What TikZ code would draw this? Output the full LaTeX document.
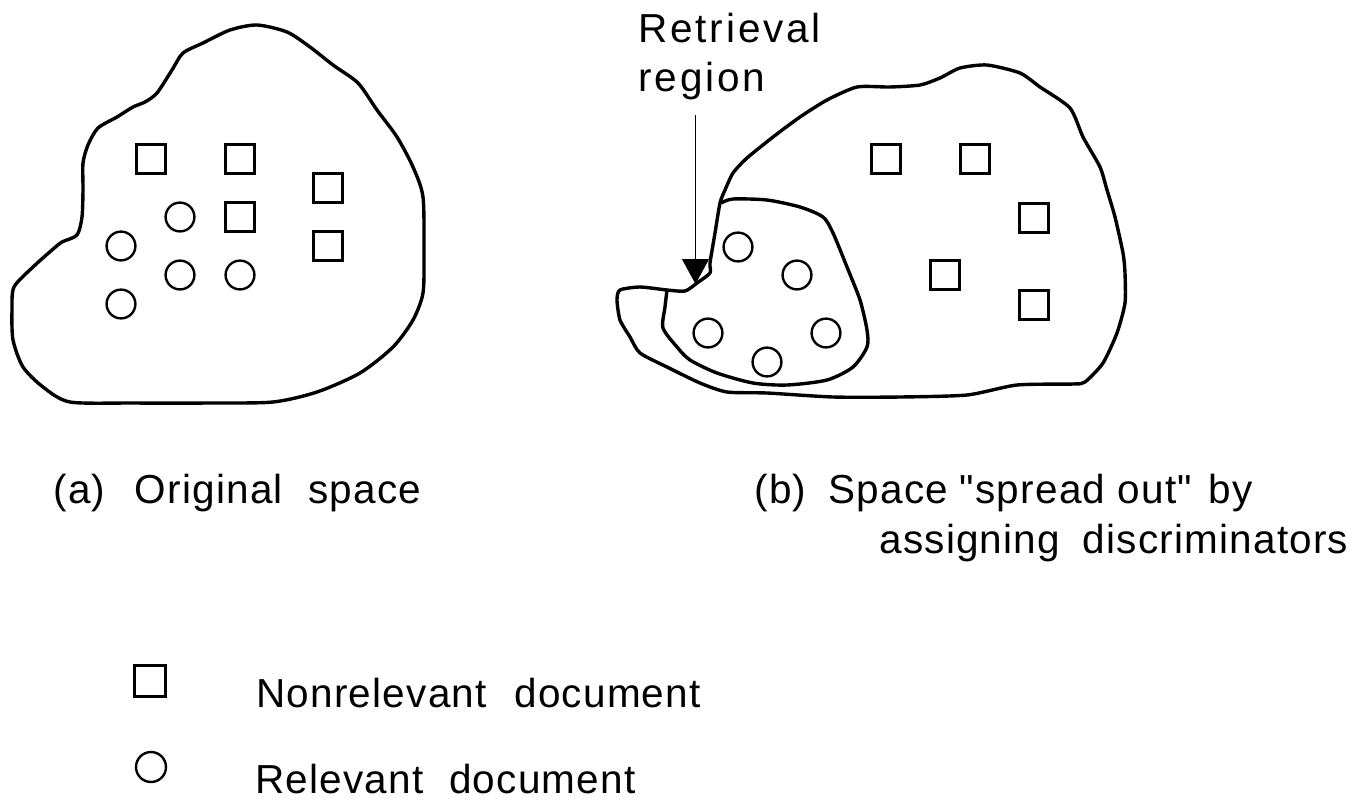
\documentclass[tikz,border=0pt]{standalone}
\usepackage{fontspec}
\setmainfont{Liberation Sans}
\newfontfamily\capfont[LetterSpace=3]{Liberation Sans}
\newfontfamily\retfont[LetterSpace=7]{Liberation Sans}
\usetikzlibrary{arrows.meta}
\newcommand{\wgap}[1]{\hspace{#1pt}}
\tikzset{
  blob/.style={line width=1.7pt, line join=round},
  nonrel/.style={draw, rectangle, line width=1.4pt, minimum size=14.6pt, inner sep=0pt},
  rel/.style={draw, circle, line width=1.2pt, minimum size=14.4pt, inner sep=0pt},
  lbl/.style={anchor=base west, inner sep=0pt, font=\capfont\fontsize{20.25pt}{25pt}\selectfont},
  retlbl/.style={anchor=base west, inner sep=0pt, font=\retfont\fontsize{20.25pt}{25pt}\selectfont},
  pointer/.style={line width=0.65pt, -{Triangle[length=12.5pt,width=13.5pt]}}
}
\begin{document}
\begin{tikzpicture}[x=0.5pt,y=-0.5pt]
\useasboundingbox (0,0) rectangle (1361,799);

% ---- (a) original space ----
\draw[blob] plot[smooth cycle, tension=0.45] coordinates {
 (257,25) (287,32) (310,47) (333,65) (358,83) (377,110) (397,137) (413,167)
 (423,197) (424,253) (423,293) (413,320) (393,347) (360,373) (317,392) (273,402)
 (210,403) (133,403) (70,402) (43,387) (23,367) (13,340) (12,310) (14,287)
 (33,267) (52,250) (62,242) (77,235) (82,217) (83,190) (83,163) (88,145)
 (98,128) (117,117) (133,107) (145,102) (157,93) (172,70) (183,53) (203,43) (230,30)};

\node[nonrel] (a1) at (151,159) {};
\node[nonrel] (a2) at (240,159) {};
\node[nonrel] (a3) at (240,217) {};
\node[nonrel] (a4) at (328,188) {};
\node[nonrel] (a5) at (328,246) {};
\node[rel] (ar1) at (180,217) {};
\node[rel] (ar2) at (121,246) {};
\node[rel] (ar3) at (180,275) {};
\node[rel] (ar4) at (240,275) {};
\node[rel] (ar5) at (121,304) {};

% ---- (b) spread out space ----
\draw[blob] plot[smooth cycle, tension=0.4] coordinates {
 (710,263) (715,233) (720,203) (725,190) (733,173) (747,158) (773,137) (800,117)
 (827,100) (857,87) (890,87) (920,85) (940,78) (960,68) (987,65) (1020,73)
 (1040,87) (1070,108) (1083,137) (1100,167) (1107,190) (1115,217) (1123,253)
 (1125,273) (1125,303) (1117,333) (1103,363) (1085,382) (1073,384) (1017,385)
 (967,395) (900,397) (833,397) (767,393) (727,392) (700,383) (667,367) (640,353)
 (630,337) (620,320) (617,300) (620,290) (640,287) (667,290) (685,291)
 (697,283) (710,273)};

\draw[blob] plot[smooth, tension=0.45] coordinates {
 (667,290) (665,307) (663,328) (677,347) (690,360) (717,373) (753,383) (787,385)
 (827,380) (853,367) (867,347) (867,330) (860,300) (847,267) (833,233) (823,217)
 (800,207) (767,200) (733,199) (721,203)};

\node[rel] (br1) at (738,247) {};
\node[rel] (br2) at (797,275) {};
\node[rel] (br3) at (708,333) {};
\node[rel] (br4) at (767,362) {};
\node[rel] (br5) at (826,333) {};
\node[nonrel] (b1) at (886,159) {};
\node[nonrel] (b2) at (975,159) {};
\node[nonrel] (b3) at (1034,218) {};
\node[nonrel] (b4) at (945,275) {};
\node[nonrel] (b5) at (1034,305) {};

% ---- retrieval region pointer ----
\node[retlbl] (ret1) at (638,42) {Retrieval};
\node[retlbl] (ret2) at (638,91) {region};
\coordinate (arrfrom) at (695.5,115);
\coordinate (arrtip) at (695.5,284);
\draw[pointer] (arrfrom) -- (arrtip);

% ---- captions ----
\node[lbl] (capa) at (53,503) {(a) \wgap{8.5}Original \wgap{6.5}space};
\node[lbl] (capb1) at (754,503) {(b) \wgap{5}Space\wgap{-0.5} "spread out" \wgap{2}by};
\node[lbl] (capb2) at (879,553) {assigning \wgap{5}discriminators};

% ---- legend ----
\node[nonrel, minimum size=15.3pt] (legsq) at (150,681) {};
\node[rel, minimum size=15pt] (legci) at (151,767) {};
\node[lbl] (legsqt) at (256,707) {Nonrelevant \wgap{7.5}document};
\node[lbl] (legcit) at (255,793) {Relevant \wgap{6.5}document};
\end{tikzpicture}
\end{document}
